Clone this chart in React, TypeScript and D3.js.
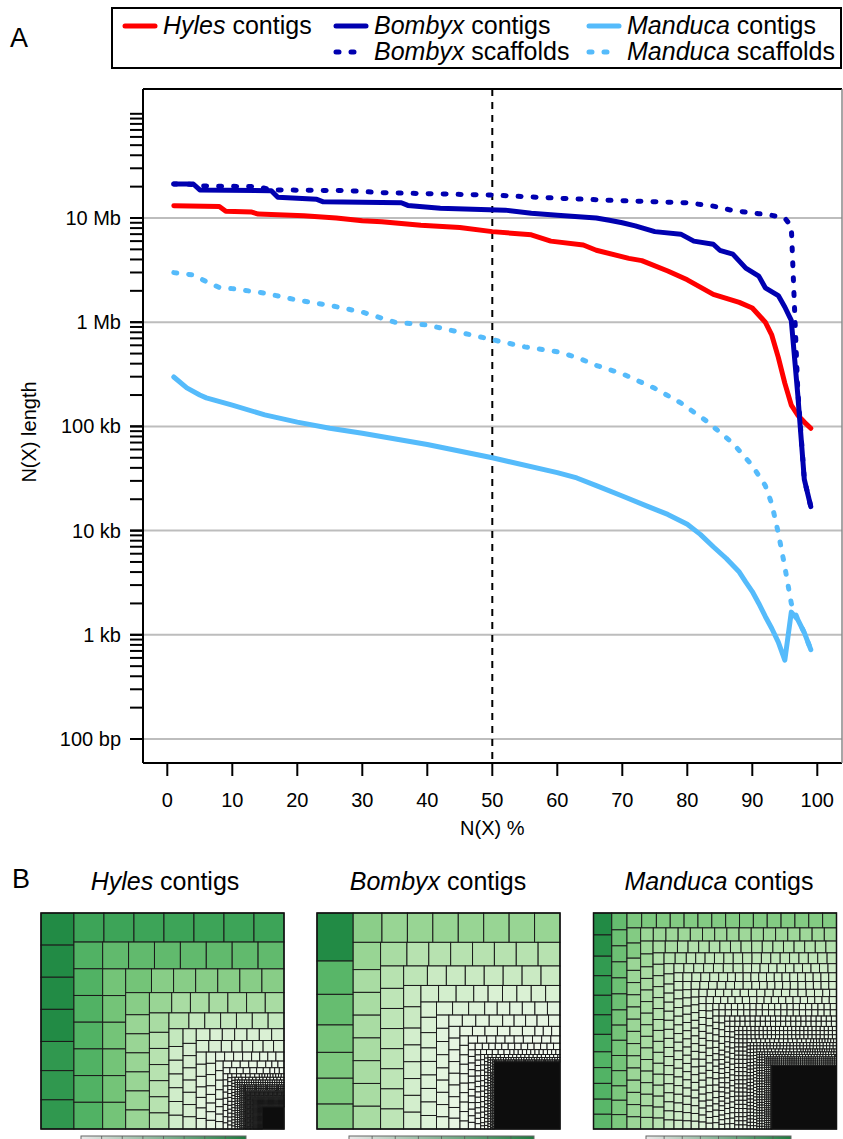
import React from "react";
import * as d3 from "d3";

// N(X) curves: [N(X) %, length in bp]
const hylesContigs: [number, number][] = [
  [1, 13.1e6], [8, 12.9e6], [9, 11.6e6], [13, 11.4e6], [14, 10.9e6], [21, 10.5e6],
  [26, 10.0e6], [30, 9.4e6], [33, 9.2e6], [39, 8.5e6], [45, 8.1e6], [50, 7.4e6],
  [56, 6.9e6], [59, 6.0e6], [64, 5.5e6], [66, 4.9e6], [71, 4.1e6], [73, 3.9e6],
  [77, 3.1e6], [80, 2.55e6], [84, 1.85e6], [88, 1.55e6], [90, 1.37e6], [92, 1.0e6],
  [93, 0.75e6], [94, 0.46e6], [95, 0.26e6], [96, 0.16e6], [97, 0.128e6], [98, 0.11e6],
  [99, 0.096e6],
];
const bombyxContigs: [number, number][] = [
  [1, 21.2e6], [4, 21.2e6], [5, 18.6e6], [16, 18.3e6], [17, 15.8e6], [23, 15.1e6],
  [24, 14.3e6], [36, 14.0e6], [37, 13.2e6], [42, 12.4e6], [52, 11.9e6], [56, 11.1e6],
  [60, 10.6e6], [66, 10.0e6], [68, 9.5e6], [70, 9.0e6], [72, 8.4e6], [75, 7.4e6],
  [79, 7.0e6], [81, 6.0e6], [84, 5.6e6], [85, 4.9e6], [87, 4.5e6], [89, 3.3e6],
  [91, 2.77e6], [92, 2.14e6], [94, 1.8e6], [95, 1.4e6], [96, 1.04e6], [97, 0.2e6],
  [98, 0.031e6], [99, 0.017e6],
];
const bombyxScaffolds: [number, number][] = [
  [1, 21.2e6], [4, 21.0e6], [5, 20.3e6], [14, 20.0e6], [16, 18.6e6], [28, 18.3e6],
  [33, 17.5e6], [50, 16.6e6], [60, 15.5e6], [68, 14.8e6], [80, 14.0e6], [84, 13.0e6],
  [87, 11.8e6], [91, 11.0e6], [93, 10.6e6], [95, 10.0e6], [96, 8.3e6], [97, 0.22e6],
  [98, 0.031e6], [99, 0.017e6],
];
const manducaContigs: [number, number][] = [
  [1, 298e3], [3, 234e3], [5, 200e3], [6, 188e3], [10, 160e3], [15, 129e3], [20, 110e3],
  [25, 96e3], [30, 86e3], [40, 67e3], [50, 50e3], [60, 36e3], [63, 32e3], [66, 27e3],
  [70, 21.5e3], [74, 17e3], [77, 14.3e3], [80, 11.5e3], [82, 9.2e3], [84, 7.0e3],
  [86, 5.4e3], [88, 4.0e3], [89, 3.2e3], [90, 2.6e3], [91, 2.0e3], [92, 1.5e3],
  [93, 1.15e3], [94, 850], [95, 570], [96, 1650], [97, 1400], [98, 1050], [99, 720],
];
const manducaScaffolds: [number, number][] = [
  [1, 2.99e6], [4, 2.84e6], [6, 2.45e6], [8, 2.15e6], [10, 2.1e6], [15, 1.9e6],
  [20, 1.63e6], [25, 1.45e6], [30, 1.25e6], [35, 1.0e6], [40, 0.94e6], [45, 0.8e6],
  [50, 0.68e6], [55, 0.58e6], [60, 0.52e6], [63, 0.46e6], [66, 0.385e6], [70, 0.32e6],
  [75, 0.232e6], [79, 0.168e6], [83, 0.112e6], [87, 0.069e6], [90, 0.042e6], [92, 27e3],
  [93, 18e3], [94, 9.5e3], [95, 4.5e3], [96, 2.0e3], [97, 1.4e3], [98, 1.05e3], [99, 720],
];

const yTickValues = [1e2, 1e3, 1e4, 1e5, 1e6, 1e7];
const yTickLabels = ["100 bp", "1 kb", "10 kb", "100 kb", "1 Mb", "10 Mb"];
const xTickValues = [0, 10, 20, 30, 40, 50, 60, 70, 80, 90, 100];

// treemap cells: [contig size in Mb, number of contigs]; rest = unresolved tiny contigs
const hylesCells: [number, number][] = [
  [13.1, 4], [11.9, 3], [10.8, 7], [9.5, 7], [8.6, 7], [7.6, 7], [6.5, 7], [5.6, 7],
  [4.7, 7], [3.9, 7], [3.1, 7], [2.4, 7], [2.0, 8], [1.8, 8], [1.5, 8], [1.3, 8],
  [1.0, 9], [0.9, 8], [0.7, 9], [0.5, 10], [0.35, 12], [0.2, 20], [0.12, 40],
  [0.07, 80], [0.04, 150], [0.02, 300], [0.01, 600],
];
const hylesRest = 6;
const bombyxCells: [number, number][] = [
  [21.2, 1], [14.7, 1], [13.5, 1], [12.1, 1], [11.4, 2], [11.0, 1], [10.3, 1], [9.1, 8],
  [7.6, 8], [6.3, 8], [5.65, 8], [4.5, 9], [3.55, 9], [2.9, 9], [2.56, 9], [2.0, 10],
  [1.85, 9], [1.58, 11], [1.45, 9], [0.97, 12], [0.82, 11], [0.55, 14], [0.5, 12],
  [0.35, 20], [0.25, 25], [0.15, 40], [0.08, 60], [0.04, 100],
];
const bombyxRest = 54;
const manducaCells: [number, number][] = [
  [3.2, 1], [3.1, 1], [2.85, 4], [2.55, 1], [2.3, 3], [2.2, 1], [2.15, 1], [2.05, 1],
  [1.95, 5], [1.85, 5], [1.75, 5], [1.65, 15], [1.33, 16], [1.28, 16], [1.15, 16],
  [1.0, 17], [0.96, 16], [0.81, 18], [0.72, 23], [0.62, 34], [0.54, 39], [0.48, 44],
  [0.4, 52], [0.31, 68], [0.21, 100], [0.135, 155], [0.085, 148], [0.055, 153],
  [0.035, 240],
];
const manducaRest = 33;

const FONT = "'Liberation Sans', Arial, Helvetica, sans-serif";
const RED = "#ff0000";
const DARK = "#0000b0";
const LIGHT = "#55bbfb";

const L = 143, T = 89, R = 842, B = 763;
const x = d3.scaleLinear().domain([0, 100]).range([167.3, 817.3]);
const y = d3.scaleLog().domain([100, 1e8]).range([739, 113.8]);
const line = d3.line<[number, number]>().x(d => x(d[0])).y(d => y(d[1]));

const series = [
  { data: manducaScaffolds, color: LIGHT, dash: "3,12" },
  { data: manducaContigs, color: LIGHT, dash: null },
  { data: bombyxScaffolds, color: DARK, dash: "3,12" },
  { data: hylesContigs, color: RED, dash: null },
  { data: bombyxContigs, color: DARK, dash: null },
];

const legendItems = [
  { genus: "Hyles", rest: " contigs", color: RED, dash: null, lx: 125, ty: 34 },
  { genus: "Bombyx", rest: " contigs", color: DARK, dash: null, lx: 336, ty: 34 },
  { genus: "Manduca", rest: " contigs", color: LIGHT, dash: null, lx: 589, ty: 34 },
  { genus: "Bombyx", rest: " scaffolds", color: DARK, dash: "3,12", lx: 336, ty: 60 },
  { genus: "Manduca", rest: " scaffolds", color: LIGHT, dash: "3,12", lx: 589, ty: 60 },
];

const minorTicks: number[] = [];
for (let d = 100; d < 1e8; d *= 10) for (let k = 1; k <= 10; k++) minorTicks.push(d * k);

type Cell = { value: number; rest?: boolean };

function Treemap({ cells, rest, x0, y0, genus, cx }: { cells: [number, number][]; rest: number; x0: number; y0: number; genus: string; cx: number }) {
  const w = 243, h = 216;
  const leaves: Cell[] = [];
  cells.forEach(([v, n]) => { for (let i = 0; i < n; i++) leaves.push({ value: v }); });
  leaves.push({ value: rest, rest: true });
  const maxV = d3.max(cells, c => c[0]) as number;
  const color = (v: number) => d3.interpolateGreens(0.75 * Math.pow(v / maxV, 0.75));
  const root = d3.hierarchy<any>({ children: leaves }).sum((d: any) => d.value || 0);
  d3.treemap<any>().tile(d3.treemapSquarify.ratio(1)).size([w, h])(root);
  const nodes = root.leaves() as any[];
  return (
    <g>
      <text x={cx} y={890} textAnchor="middle" fontSize={25} fontFamily={FONT}>
        <tspan fontStyle="italic">{genus}</tspan> contigs
      </text>
      <g transform={`translate(${x0},${y0})`}>
        {nodes.map((n, i) => (
          <rect key={i} x={n.x0} y={n.y0} width={Math.max(0, n.x1 - n.x0)} height={Math.max(0, n.y1 - n.y0)}
            fill={n.data.rest ? "#0d0d0d" : color(n.data.value)} stroke="#1a1a1a" strokeWidth={1} />
        ))}
        <rect x={0} y={0} width={w} height={h} fill="none" stroke="#111" strokeWidth={1.5} />
      </g>
    </g>
  );
}

const colorBars = [
  { x: 81, w: 165 },
  { x: 349, w: 185 },
  { x: 646, w: 145 },
];

export default function App() {
  return (
    <svg width={843} height={1139} style={{ position: "absolute", left: 0, top: 0, display: "block", background: "#fff" }} fontFamily={FONT}>
      <defs>
        <linearGradient id="bar" x1="0" x2="1" y1="0" y2="0">
          <stop offset="0" stopColor="#e8e8e8" />
          <stop offset="1" stopColor="#1f7a3f" />
        </linearGradient>
        <clipPath id="plotclip"><rect x={L} y={T} width={R - L} height={B - T} /></clipPath>
      </defs>

      <text x={10} y={47} fontSize={27}>A</text>

      {/* legend */}
      <rect x={112} y={8} width={729} height={60} fill="#fff" stroke="#000" strokeWidth={2} />
      {legendItems.map((it, i) => (
        <g key={i}>
          <line x1={it.lx} x2={it.lx + 30} y1={it.ty - 8} y2={it.ty - 8} stroke={it.color} strokeWidth={5}
            strokeLinecap="round" strokeDasharray={it.dash || undefined} />
          <text x={it.lx + 38} y={it.ty} fontSize={25}>
            <tspan fontStyle="italic">{it.genus}</tspan>{it.rest}
          </text>
        </g>
      ))}

      {/* grid */}
      {yTickValues.map(v => (
        <line key={v} x1={L} x2={R} y1={y(v)} y2={y(v)} stroke="#bdbdbd" strokeWidth={2} />
      ))}
      <line x1={x(50)} x2={x(50)} y1={T} y2={B} stroke="#000" strokeWidth={2} strokeDasharray="7,6" />

      {/* series */}
      <g clipPath="url(#plotclip)">
        {series.map((s, i) => (
          <path key={i} d={line(s.data) || ""} fill="none" stroke={s.color} strokeWidth={5}
            strokeLinecap="round" strokeLinejoin="round" strokeDasharray={s.dash || undefined} />
        ))}
      </g>

      {/* frame */}
      <line x1={L} x2={R} y1={T} y2={T} stroke="#000" strokeWidth={2} />
      <line x1={L} x2={R} y1={B} y2={B} stroke="#000" strokeWidth={2} />
      <line x1={L} x2={L} y1={T} y2={B} stroke="#000" strokeWidth={2} />
      <line x1={R} x2={R} y1={T} y2={B} stroke="#888" strokeWidth={1.5} />

      {/* y axis */}
      {minorTicks.map(v => (
        <line key={v} x1={L - 13} x2={L} y1={y(v)} y2={y(v)} stroke="#000" strokeWidth={2} />
      ))}
      {yTickValues.map((v, i) => (
        <text key={v} x={121} y={y(v) + 7} textAnchor="end" fontSize={20}>{yTickLabels[i]}</text>
      ))}
      <text transform="translate(36,432) rotate(-90)" textAnchor="middle" fontSize={20}>N(X) length</text>

      {/* x axis */}
      {xTickValues.map(v => (
        <g key={v}>
          <line x1={x(v)} x2={x(v)} y1={B} y2={B + 13} stroke="#000" strokeWidth={2} />
          <text x={x(v)} y={807} textAnchor="middle" fontSize={20}>{v}</text>
        </g>
      ))}
      <text x={x(50)} y={835} textAnchor="middle" fontSize={20}>N(X) %</text>

      {/* panel B */}
      <text x={12} y={888} fontSize={27}>B</text>
      <Treemap cells={hylesCells} rest={hylesRest} x0={41} y0={913} genus="Hyles" cx={165} />
      <Treemap cells={bombyxCells} rest={bombyxRest} x0={317} y0={913} genus="Bombyx" cx={438} />
      <Treemap cells={manducaCells} rest={manducaRest} x0={593.5} y0={913} genus="Manduca" cx={719} />

      {colorBars.map((b, i) => (
        <g key={i}>
          <rect x={b.x} y={1136} width={b.w} height={12} fill="url(#bar)" stroke="#666" strokeWidth={1} />
          {d3.range(1, 8).map(k => (
            <line key={k} x1={b.x + (b.w * k) / 8} x2={b.x + (b.w * k) / 8} y1={1136} y2={1148} stroke="#555" strokeWidth={0.8} />
          ))}
        </g>
      ))}
    </svg>
  );
}
